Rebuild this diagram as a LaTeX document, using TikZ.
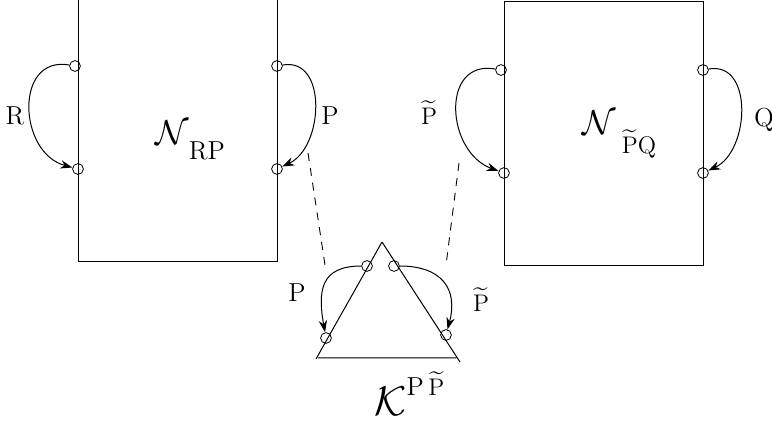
\documentclass[tikz,border=0pt]{standalone}
\usepackage{amsmath}
\usepackage{amssymb}
\usepackage{tikz}
\usetikzlibrary{arrows.meta,calc,positioning}
\tikzset{
  caja/.style={
    draw,
    line width=0.5pt,
    minimum width=99.5pt,
    inner sep=0pt
  },
  puerto/.style={
    circle,
    draw,
    line width=0.4pt,
    minimum size=5.4pt,
    inner sep=0pt
  },
  arrow/.style={
    -{Stealth[length=6pt,width=4.2pt]},
    line width=0.5pt
  },
  enlace/.style={
    line width=0.45pt,
    dash pattern=on 4pt off 3.5pt
  },
  etiq/.style={
    inner sep=0pt,
    font=\fontsize{13}{15}\selectfont
  }
}

\begin{document}
\begin{tikzpicture}[x=0.5pt,y=-0.5pt]
\useasboundingbox (0,0) rectangle (772,427);
\node[caja, minimum height=136pt] (rp) at (177.5,126) {};
\node[caja, minimum height=132pt] (pq) at (603.5,134) {};
\node[puerto] (l1) at (75,66) {};
\node[puerto] (l2) at (78,169) {};
\node[puerto] (l3) at (277,66) {};
\node[puerto] (l4) at (277,169) {};
\node[puerto] (r1) at (501,70) {};
\node[puerto] (r2) at (504,173) {};
\node[puerto] (r3) at (703,70) {};
\node[puerto] (r4) at (703,173) {};
\coordinate (ka) at (382,242);
\coordinate (kb) at (316,359);
\coordinate (kc) at (460,362);
\draw[line width=0.5pt] (ka) -- (kb) (ka) -- (kc) (318,358) -- (456,358);
\node[puerto] (t1) at (367,266) {};
\node[puerto] (t2) at (326,338) {};
\node[puerto] (t3) at (394,266) {};
\node[puerto] (t4) at (446,335) {};
\draw[arrow] (l1) to[out=170, in=165, looseness=1.4] (l2);
\draw[arrow] (l3) to[out=10, in=25, looseness=1.15] (l4);
\draw[arrow] (r1) to[out=170, in=160, looseness=1.4] (r2);
\draw[arrow] (r3) to[out=10, in=25, looseness=1.15] (r4);
\draw[arrow] (t1) to[out=180, in=100, looseness=1.4] (t2);
\draw[arrow] (t3) to[out=0, in=75, looseness=1.35] (t4);
\coordinate (d1) at (308,153);
\coordinate (d2) at (325,265);
\coordinate (d3) at (459,163);
\coordinate (d4) at (446,265);
\draw[enlace] (d1) -- (d2);
\draw[enlace] (d3) -- (d4);
\node[etiq, anchor=base] (lr) at (15,125) {R};
\node[etiq, anchor=base] (lp) at (330,125) {P};
\node[etiq, anchor=base] (lpt) at (429,125) {$\widetilde{\mathrm{P}}$};
\node[etiq, anchor=base] (lq) at (764,127) {Q};
\node[etiq, anchor=base] (kp) at (297,302) {P};
\node[etiq, anchor=base] (kpt) at (481,312) {$\widetilde{\mathrm{P}}$};
\node[etiq, anchor=base west] (nrp) at (155,145) {\fontsize{18}{20}\selectfont$\mathcal{N}$\raisebox{-7.5pt}{\fontsize{13}{15}\selectfont RP}};
\node[etiq, anchor=base west] (npq) at (582,135) {\fontsize{18}{20}\selectfont$\mathcal{N}$\hspace{3pt}\raisebox{-9.5pt}{\fontsize{13}{15}\selectfont$\widetilde{\mathrm{P}}\mathrm{Q}$}};
\node[etiq, anchor=base west] (kpp) at (374,416) {\fontsize{20}{22}\selectfont$\mathcal{K}$\raisebox{10pt}{\fontsize{13}{15}\selectfont P\,$\widetilde{\mathrm{P}}$}};
\end{tikzpicture}
\end{document}
